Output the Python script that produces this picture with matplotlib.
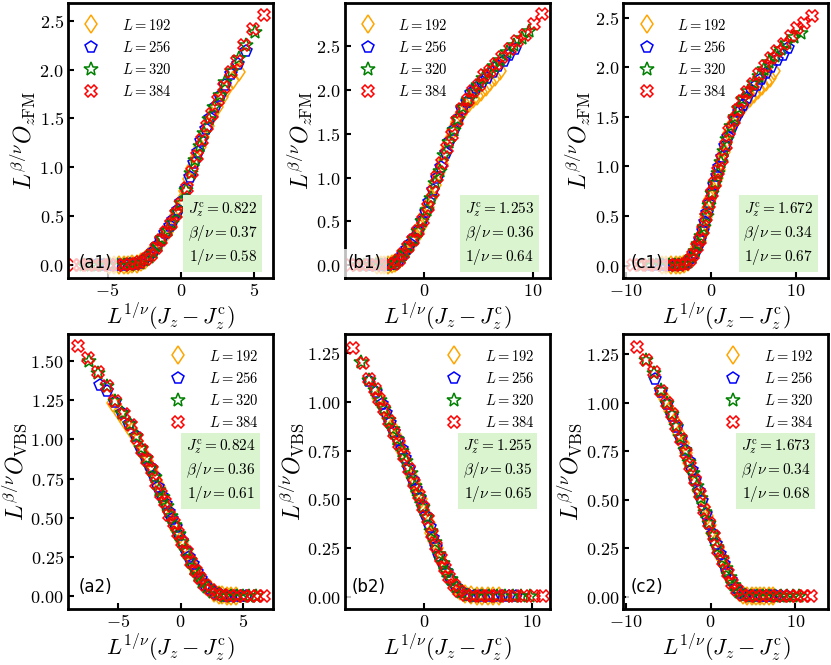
import matplotlib
matplotlib.use("Agg")
import matplotlib.pyplot as plt
from matplotlib.ticker import FuncFormatter, FixedLocator

plt.rcParams['mathtext.fontset'] = 'cm'
plt.rcParams['font.family'] = 'DejaVu Sans'

# ---- sizes and labels ----
sizes = [192, 256, 320, 384]
markers = ['d', 'p', '*', 'X']
colors = ['orange', 'blue', 'green', 'red']

# ---- (a1) O_zFM, Jc = 0.822 ----
a1_x192 = [-4.9, -4.55, -4.2, -3.9, -3.6, -3.3, -3.0, -2.7, -2.45, -2.2, -1.95, -1.7, -1.45, -1.2, -0.95, -0.7, -0.45, -0.2, 0.05, 0.3, 0.55, 0.8, 1.05, 1.3, 1.55, 1.85, 2.15, 2.45, 2.8, 3.15, 3.55, 3.99]
a1_y192 = [0.005, 0.005, 0.005, 0.006, 0.007, 0.009, 0.015, 0.032, 0.055, 0.09, 0.13, 0.18, 0.235, 0.29, 0.345, 0.41, 0.48, 0.56, 0.645, 0.76, 0.88, 0.99, 1.1, 1.21, 1.31, 1.42, 1.53, 1.62, 1.72, 1.81, 1.89, 1.97]
a1_x256 = [-5.8, -5.4, -5.0, -4.6, -4.2, -3.8, -3.45, -3.1, -2.8, -2.5, -2.2, -1.9, -1.6, -1.35, -1.05, -0.75, -0.5, -0.2, 0.05, 0.35, 0.6, 0.9, 1.15, 1.4, 1.7, 2.0, 2.35, 2.7, 3.05, 3.45, 3.9, 4.45]
a1_y256 = [0.004, 0.004, 0.004, 0.004, 0.005, 0.006, 0.008, 0.012, 0.028, 0.052, 0.09, 0.14, 0.2, 0.26, 0.33, 0.4, 0.46, 0.56, 0.645, 0.78, 0.9, 1.04, 1.16, 1.27, 1.39, 1.5, 1.62, 1.73, 1.84, 1.95, 2.06, 2.19]
a1_x320 = [-6.6, -6.15, -5.7, -5.25, -4.8, -4.35, -3.9, -3.5, -3.15, -2.8, -2.5, -2.2, -1.9, -1.55, -1.25, -0.9, -0.6, -0.25, 0.05, 0.35, 0.7, 1.0, 1.3, 1.6, 1.95, 2.3, 2.65, 3.05, 3.5, 3.95, 4.45, 5.1]
a1_y320 = [0.004, 0.004, 0.004, 0.004, 0.004, 0.005, 0.006, 0.007, 0.01, 0.025, 0.05, 0.085, 0.135, 0.21, 0.28, 0.36, 0.43, 0.54, 0.64, 0.77, 0.94, 1.08, 1.22, 1.35, 1.49, 1.62, 1.74, 1.87, 1.99, 2.12, 2.25, 2.38]
a1_x384 = [-7.35, -6.85, -6.35, -5.85, -5.35, -4.85, -4.35, -3.85, -3.45, -3.1, -2.75, -2.4, -2.05, -1.7, -1.35, -1.0, -0.65, -0.3, 0.05, 0.4, 0.75, 1.1, 1.45, 1.8, 2.15, 2.55, 2.95, 3.4, 3.85, 4.35, 4.95, 5.67]
a1_y384 = [0.003, 0.003, 0.003, 0.003, 0.004, 0.004, 0.005, 0.006, 0.008, 0.014, 0.03, 0.06, 0.11, 0.18, 0.26, 0.335, 0.42, 0.52, 0.63, 0.79, 0.955, 1.12, 1.28, 1.42, 1.55, 1.69, 1.82, 1.97, 2.09, 2.25, 2.41, 2.56]

# ---- (b1) O_zFM, Jc = 1.253 ----
b1_x192 = [-4.4, -4.05, -3.7, -3.35, -3.0, -2.7, -2.4, -2.1, -1.8, -1.5, -1.2, -0.9, -0.6, -0.3, 0.0, 0.3, 0.6, 0.95, 1.3, 1.6, 1.95, 2.3, 2.65, 3.0, 3.35, 3.7, 4.1, 4.5, 4.85, 5.2, 5.65, 6.05, 6.5, 7.0]
b1_y192 = [0.005, 0.005, 0.006, 0.007, 0.01, 0.025, 0.06, 0.1, 0.15, 0.2, 0.26, 0.31, 0.38, 0.45, 0.56, 0.66, 0.77, 0.92, 1.06, 1.16, 1.3, 1.42, 1.54, 1.63, 1.72, 1.79, 1.85, 1.89, 1.93, 1.97, 2.03, 2.09, 2.15, 2.22]
b1_x256 = [-5.3, -4.85, -4.4, -3.95, -3.5, -3.05, -2.7, -2.35, -2.0, -1.65, -1.3, -0.95, -0.6, -0.25, 0.1, 0.45, 0.8, 1.15, 1.55, 1.95, 2.3, 2.7, 3.1, 3.5, 3.9, 4.35, 4.8, 5.3, 5.8, 6.3, 6.85, 7.35, 7.85, 8.4]
b1_y256 = [0.004, 0.004, 0.005, 0.005, 0.006, 0.009, 0.02, 0.06, 0.12, 0.18, 0.245, 0.31, 0.39, 0.5, 0.61, 0.72, 0.86, 1.0, 1.12, 1.28, 1.41, 1.54, 1.67, 1.78, 1.86, 1.96, 2.02, 2.09, 2.14, 2.2, 2.27, 2.33, 2.4, 2.46]
b1_x320 = [-6.15, -5.6, -5.05, -4.5, -4.0, -3.5, -3.0, -2.6, -2.2, -1.8, -1.4, -1.0, -0.6, -0.2, 0.2, 0.6, 1.0, 1.4, 1.85, 2.3, 2.7, 3.1, 3.55, 4.0, 4.45, 4.95, 5.45, 5.95, 6.45, 7.0, 7.65, 8.3, 9.0, 9.7]
b1_y320 = [0.003, 0.004, 0.004, 0.005, 0.005, 0.007, 0.012, 0.035, 0.09, 0.155, 0.225, 0.295, 0.39, 0.5, 0.63, 0.77, 0.94, 1.07, 1.26, 1.41, 1.54, 1.67, 1.8, 1.88, 1.97, 2.05, 2.14, 2.2, 2.27, 2.34, 2.43, 2.51, 2.59, 2.67]
b1_x384 = [-6.9, -6.3, -5.7, -5.1, -4.5, -3.9, -3.35, -2.85, -2.4, -1.95, -1.5, -1.05, -0.6, -0.15, 0.3, 0.75, 1.2, 1.65, 2.1, 2.55, 3.0, 3.5, 4.0, 4.5, 5.0, 5.55, 6.1, 6.65, 7.2, 7.9, 8.55, 9.3, 10.1, 10.86]
b1_y384 = [0.003, 0.003, 0.004, 0.004, 0.005, 0.006, 0.01, 0.02, 0.057, 0.133, 0.21, 0.285, 0.39, 0.52, 0.67, 0.84, 1.01, 1.17, 1.34, 1.49, 1.64, 1.78, 1.88, 1.99, 2.06, 2.17, 2.22, 2.3, 2.37, 2.46, 2.56, 2.63, 2.75, 2.86]

# ---- (c1) O_zFM, Jc = 1.672 ----
c1_x192 = [-5.8, -5.25, -4.7, -4.15, -3.6, -3.1, -2.7, -2.3, -1.95, -1.6, -1.3, -1.05, -0.8, -0.55, -0.3, -0.05, 0.2, 0.45, 0.7, 0.95, 1.25, 1.55, 1.85, 2.2, 2.55, 2.9, 3.3, 3.75, 4.2, 4.65, 5.1, 5.55, 6.05, 6.5, 7.0, 7.5]
c1_y192 = [0.003, 0.004, 0.004, 0.005, 0.006, 0.012, 0.035, 0.075, 0.125, 0.19, 0.25, 0.32, 0.4, 0.49, 0.58, 0.67, 0.745, 0.815, 0.88, 0.96, 1.06, 1.15, 1.24, 1.34, 1.42, 1.49, 1.55, 1.61, 1.65, 1.69, 1.73, 1.77, 1.81, 1.85, 1.89, 1.96]
c1_x256 = [-7.0, -6.3, -5.6, -4.95, -4.3, -3.7, -3.2, -2.75, -2.3, -1.9, -1.55, -1.25, -0.95, -0.65, -0.4, -0.15, 0.15, 0.4, 0.7, 1.0, 1.35, 1.7, 2.05, 2.45, 2.85, 3.3, 3.8, 4.3, 4.85, 5.4, 5.95, 6.55, 7.15, 7.8, 8.45, 9.1]
c1_y256 = [0.003, 0.003, 0.004, 0.004, 0.005, 0.007, 0.012, 0.03, 0.075, 0.13, 0.2, 0.26, 0.345, 0.44, 0.53, 0.62, 0.735, 0.81, 0.9, 0.99, 1.1, 1.21, 1.3, 1.4, 1.47, 1.55, 1.62, 1.69, 1.76, 1.82, 1.88, 1.94, 2.0, 2.07, 2.13, 2.2]
c1_x320 = [-8.1, -7.3, -6.5, -5.75, -4.95, -4.25, -3.7, -3.2, -2.65, -2.2, -1.8, -1.45, -1.1, -0.8, -0.5, -0.2, 0.15, 0.45, 0.8, 1.15, 1.55, 1.95, 2.4, 2.85, 3.3, 3.8, 4.4, 5.05, 5.65, 6.3, 6.9, 7.6, 8.3, 9.0, 9.75, 10.6]
c1_y320 = [0.003, 0.003, 0.003, 0.004, 0.004, 0.005, 0.007, 0.012, 0.04, 0.09, 0.15, 0.215, 0.3, 0.39, 0.5, 0.61, 0.73, 0.83, 0.93, 1.05, 1.16, 1.28, 1.41, 1.5, 1.59, 1.68, 1.76, 1.84, 1.91, 1.98, 2.05, 2.12, 2.19, 2.25, 2.31, 2.35]
c1_x384 = [-9.2, -8.3, -7.4, -6.5, -5.6, -4.8, -4.2, -3.6, -3.0, -2.5, -2.05, -1.65, -1.25, -0.9, -0.55, -0.2, 0.15, 0.5, 0.9, 1.3, 1.75, 2.2, 2.7, 3.2, 3.7, 4.3, 5.0, 5.7, 6.4, 7.1, 7.8, 8.6, 9.4, 10.2, 11.0, 11.9]
c1_y384 = [0.003, 0.003, 0.003, 0.003, 0.003, 0.003, 0.004, 0.006, 0.015, 0.058, 0.11, 0.186, 0.26, 0.36, 0.49, 0.62, 0.73, 0.83, 0.955, 1.08, 1.22, 1.36, 1.47, 1.57, 1.665, 1.75, 1.83, 1.93, 2.01, 2.095, 2.17, 2.24, 2.32, 2.395, 2.45, 2.52]

# ---- (a2) O_VBS, Jc = 0.824 ----
a2_x192 = [-5.36, -4.85, -4.35, -3.9, -3.45, -3.0, -2.65, -2.35, -2.05, -1.75, -1.5, -1.25, -1.0, -0.8, -0.55, -0.35, -0.1, 0.15, 0.4, 0.65, 0.9, 1.15, 1.4, 1.7, 2.0, 2.35, 2.7, 3.05, 3.35, 3.7, 4.05, 4.4]
a2_y192 = [1.23, 1.17, 1.11, 1.05, 0.99, 0.915, 0.86, 0.81, 0.765, 0.7, 0.64, 0.6, 0.55, 0.51, 0.47, 0.43, 0.385, 0.345, 0.297, 0.255, 0.213, 0.175, 0.138, 0.098, 0.066, 0.045, 0.025, 0.012, 0.006, 0.004, 0.003, 0.003]
a2_x256 = [-6.45, -5.87, -5.25, -4.7, -4.15, -3.6, -3.15, -2.8, -2.45, -2.1, -1.8, -1.5, -1.2, -0.95, -0.65, -0.4, -0.1, 0.15, 0.45, 0.7, 1.0, 1.3, 1.6, 1.95, 2.35, 2.75, 3.2, 3.6, 4.0, 4.4, 4.8, 5.2]
a2_y256 = [1.345, 1.31, 1.235, 1.17, 1.1, 1.02, 0.94, 0.88, 0.825, 0.765, 0.695, 0.64, 0.59, 0.54, 0.49, 0.445, 0.39, 0.35, 0.29, 0.25, 0.205, 0.155, 0.113, 0.075, 0.045, 0.025, 0.009, 0.005, 0.004, 0.003, 0.003, 0.003]
a2_x320 = [-7.3, -6.6, -5.9, -5.25, -4.65, -4.05, -3.55, -3.15, -2.75, -2.4, -2.05, -1.7, -1.4, -1.1, -0.8, -0.45, -0.15, 0.15, 0.45, 0.75, 1.1, 1.4, 1.75, 2.15, 2.6, 3.05, 3.55, 4.05, 4.5, 5.0, 5.5, 6.0]
a2_y320 = [1.5, 1.425, 1.34, 1.245, 1.17, 1.095, 1.02, 0.945, 0.88, 0.82, 0.76, 0.68, 0.63, 0.575, 0.515, 0.455, 0.4, 0.345, 0.288, 0.235, 0.175, 0.135, 0.09, 0.058, 0.03, 0.013, 0.005, 0.003, 0.002, 0.002, 0.002, 0.002]
a2_x384 = [-8.18, -7.39, -6.6, -5.9, -5.21, -4.5, -3.95, -3.5, -3.1, -2.7, -2.3, -1.95, -1.6, -1.25, -0.9, -0.55, -0.2, 0.15, 0.5, 0.85, 1.2, 1.55, 1.95, 2.4, 2.9, 3.4, 3.95, 4.5, 5.05, 5.6, 6.15, 6.7]
a2_y384 = [1.596, 1.515, 1.43, 1.34, 1.245, 1.16, 1.09, 1.01, 0.935, 0.87, 0.805, 0.725, 0.65, 0.6, 0.52, 0.465, 0.404, 0.345, 0.28, 0.222, 0.165, 0.115, 0.07, 0.04, 0.018, 0.006, 0.003, 0.002, 0.002, 0.002, 0.002, 0.002]

# ---- (b2) O_VBS, Jc = 1.255 ----
b2_x192 = [-4.2, -3.7, -3.3, -2.95, -2.6, -2.3, -2.0, -1.7, -1.4, -1.1, -0.85, -0.6, -0.3, -0.05, 0.2, 0.45, 0.7, 0.95, 1.2, 1.5, 1.8, 2.1, 2.45, 2.9, 3.35, 3.85, 4.35, 4.9, 5.4, 5.95, 6.45, 7.0]
b2_y192 = [1.02, 0.97, 0.92, 0.873, 0.828, 0.79, 0.75, 0.71, 0.665, 0.617, 0.58, 0.54, 0.5, 0.46, 0.42, 0.38, 0.327, 0.285, 0.248, 0.203, 0.165, 0.13, 0.092, 0.053, 0.029, 0.012, 0.006, 0.004, 0.003, 0.003, 0.003, 0.003]
b2_x256 = [-5.06, -4.4, -3.9, -3.5, -3.1, -2.75, -2.4, -2.05, -1.7, -1.35, -1.0, -0.7, -0.35, -0.05, 0.25, 0.55, 0.85, 1.15, 1.45, 1.8, 2.15, 2.55, 3.0, 3.5, 4.05, 4.65, 5.25, 5.9, 6.5, 7.2, 7.85, 8.5]
b2_y256 = [1.11, 1.05, 0.99, 0.945, 0.893, 0.847, 0.803, 0.757, 0.71, 0.658, 0.6, 0.555, 0.505, 0.46, 0.415, 0.36, 0.302, 0.255, 0.21, 0.165, 0.125, 0.085, 0.048, 0.024, 0.009, 0.005, 0.003, 0.003, 0.003, 0.003, 0.003, 0.003]
b2_x320 = [-5.85, -5.05, -4.5, -4.05, -3.65, -3.25, -2.85, -2.45, -2.0, -1.6, -1.2, -0.8, -0.4, -0.05, 0.3, 0.65, 1.0, 1.4, 1.75, 2.1, 2.5, 2.95, 3.45, 4.1, 4.7, 5.35, 6.05, 6.75, 7.5, 8.25, 9.0, 9.8]
b2_y320 = [1.205, 1.115, 1.06, 1.01, 0.962, 0.91, 0.86, 0.808, 0.75, 0.695, 0.635, 0.57, 0.51, 0.46, 0.41, 0.335, 0.278, 0.218, 0.17, 0.13, 0.09, 0.05, 0.025, 0.008, 0.004, 0.003, 0.003, 0.003, 0.003, 0.003, 0.003, 0.003]
b2_x384 = [-6.57, -5.65, -5.03, -4.55, -4.1, -3.64, -3.18, -2.72, -2.25, -1.79, -1.33, -0.9, -0.45, -0.05, 0.35, 0.75, 1.15, 1.55, 1.95, 2.35, 2.8, 3.3, 3.9, 4.6, 5.3, 6.0, 6.8, 7.6, 8.4, 9.3, 10.2, 11.0]
b2_y384 = [1.279, 1.202, 1.117, 1.065, 1.014, 0.963, 0.903, 0.843, 0.783, 0.723, 0.655, 0.586, 0.52, 0.46, 0.4, 0.32, 0.26, 0.2, 0.145, 0.1, 0.06, 0.031, 0.01, 0.005, 0.004, 0.003, 0.003, 0.003, 0.003, 0.003, 0.003, 0.003]

# ---- (c2) O_VBS, Jc = 1.673 ----
c2_x192 = [-5.4, -4.75, -4.2, -3.7, -3.3, -2.9, -2.5, -2.15, -1.8, -1.45, -1.15, -0.8, -0.45, -0.1, 0.2, 0.6, 0.9, 1.25, 1.6, 1.95, 2.4, 2.85, 3.4, 3.85, 4.35, 4.85, 5.35, 5.85, 6.35, 6.9, 7.4]
c2_y192 = [1.02, 0.955, 0.9, 0.84, 0.79, 0.738, 0.69, 0.645, 0.6, 0.55, 0.508, 0.46, 0.415, 0.37, 0.33, 0.28, 0.244, 0.205, 0.166, 0.128, 0.083, 0.05, 0.022, 0.01, 0.005, 0.003, 0.003, 0.003, 0.003, 0.003, 0.003]
c2_x256 = [-6.6, -5.8, -5.1, -4.5, -4.0, -3.5, -3.05, -2.6, -2.2, -1.8, -1.4, -1.0, -0.55, -0.15, 0.25, 0.7, 1.1, 1.55, 1.95, 2.4, 2.95, 3.5, 4.1, 4.7, 5.3, 5.9, 6.5, 7.1, 7.75, 8.35, 9.0]
c2_y256 = [1.12, 1.055, 0.99, 0.93, 0.875, 0.81, 0.755, 0.7, 0.65, 0.6, 0.545, 0.49, 0.425, 0.375, 0.325, 0.27, 0.22, 0.17, 0.128, 0.085, 0.043, 0.018, 0.006, 0.004, 0.003, 0.003, 0.003, 0.003, 0.003, 0.003, 0.003]
c2_x320 = [-7.6, -6.7, -5.9, -5.2, -4.6, -4.05, -3.55, -3.05, -2.55, -2.1, -1.6, -1.15, -0.65, -0.2, 0.3, 0.8, 1.3, 1.8, 2.25, 2.75, 3.4, 4.05, 4.75, 5.45, 6.15, 6.85, 7.55, 8.3, 9.0, 9.7, 10.5]
c2_y320 = [1.22, 1.15, 1.065, 1.0, 0.94, 0.88, 0.82, 0.755, 0.693, 0.637, 0.572, 0.51, 0.437, 0.38, 0.318, 0.256, 0.2, 0.145, 0.1, 0.058, 0.022, 0.007, 0.004, 0.003, 0.003, 0.003, 0.003, 0.003, 0.003, 0.003, 0.003]
c2_x384 = [-8.68, -7.58, -6.7, -5.86, -5.2, -4.58, -4.03, -3.48, -2.93, -2.38, -1.83, -1.28, -0.73, -0.18, 0.37, 0.92, 1.47, 2.01, 2.56, 3.11, 3.85, 4.58, 5.4, 6.2, 7.0, 7.8, 8.6, 9.4, 10.2, 11.0, 11.9]
c2_y384 = [1.284, 1.22, 1.155, 1.06, 1.0, 0.94, 0.88, 0.81, 0.74, 0.672, 0.603, 0.526, 0.448, 0.379, 0.31, 0.241, 0.181, 0.121, 0.069, 0.034, 0.009, 0.004, 0.003, 0.003, 0.003, 0.003, 0.003, 0.003, 0.003, 0.003, 0.003]

# fit results shown in the green boxes
fit_jc = ['0.822', '1.253', '1.672', '0.824', '1.255', '1.673']
fit_beta = ['0.37', '0.36', '0.34', '0.36', '0.35', '0.34']
fit_nu = ['0.58', '0.64', '0.67', '0.61', '0.65', '0.68']
panel_tags = ['(a1)', '(b1)', '(c1)', '(a2)', '(b2)', '(c2)']

xticks_cols = [[-5, 0, 5], [0, 10], [-10, 0, 10]]
yticks_top = [0.0, 0.5, 1.0, 1.5, 2.0, 2.5]
yticks_bot = [[0.0, 0.25, 0.5, 0.75, 1.0, 1.25, 1.5], [0.0, 0.25, 0.5, 0.75, 1.0, 1.25], [0.0, 0.25, 0.5, 0.75, 1.0, 1.25]]

data = [
    [(a1_x192, a1_y192), (a1_x256, a1_y256), (a1_x320, a1_y320), (a1_x384, a1_y384)],
    [(b1_x192, b1_y192), (b1_x256, b1_y256), (b1_x320, b1_y320), (b1_x384, b1_y384)],
    [(c1_x192, c1_y192), (c1_x256, c1_y256), (c1_x320, c1_y320), (c1_x384, c1_y384)],
    [(a2_x192, a2_y192), (a2_x256, a2_y256), (a2_x320, a2_y320), (a2_x384, a2_y384)],
    [(b2_x192, b2_y192), (b2_x256, b2_y256), (b2_x320, b2_y320), (b2_x384, b2_y384)],
    [(c2_x192, c2_y192), (c2_x256, c2_y256), (c2_x320, c2_y320), (c2_x384, c2_y384)],
]

xlims = [(-7.7, 6.3), (-7.4, 11.57), (-10.3, 13.84), (-9.0, 7.4), (-7.34, 11.64), (-10.3, 13.9)]
ylims = [(-0.13, 2.68), (-0.145, 2.99), (-0.126, 2.65), (-0.08, 1.67), (-0.064, 1.35), (-0.064, 1.353)]

lefts = [68 / 831, 344.5 / 831, 623.3 / 831]
bottoms = [(665 - 278) / 665, (665 - 609) / 665]
w, h = 205 / 831, 275 / 665
tag_x = [0.05, 0.015, 0.035, 0.053, 0.035, 0.038]
msizes = {'d': 9.5, 'p': 8.5, '*': 10.5, 'X': 9}

fig = plt.figure(figsize=(8.31, 6.65), dpi=100)

for k in range(6):
    row, col = divmod(k, 3)
    ax = fig.add_axes([lefts[col], bottoms[row], w, h])
    for (xs, ys), m, c, L in zip(data[k], markers, colors, sizes):
        ax.plot(xs, ys, ls='none', marker=m, ms=msizes[m], mfc='none', mec=c,
                mew=1.1, label=r'$L=%d$' % L)
    ax.set_xlim(*xlims[k])
    ax.set_ylim(*ylims[k])

    ax.xaxis.set_major_locator(FixedLocator(xticks_cols[col]))
    if row == 0:
        ax.yaxis.set_major_locator(FixedLocator(yticks_top))
        yfmt = lambda v, p: r'$%.1f$' % v
        ylab = r'$L^{\beta/\nu}O_{z\mathrm{FM}}$'
        leg_loc = 'upper left'
    else:
        ax.yaxis.set_major_locator(FixedLocator(yticks_bot[col]))
        yfmt = lambda v, p: r'$%.2f$' % v
        ylab = r'$L^{\beta/\nu}O_{\mathrm{VBS}}$'
        leg_loc = 'upper right'
    ax.xaxis.set_major_formatter(FuncFormatter(lambda v, p: r'$%d$' % round(v)))
    ax.yaxis.set_major_formatter(FuncFormatter(yfmt))
    ax.tick_params(direction='in', length=4, width=1.5, labelsize=13, pad=3)
    for s in ax.spines.values():
        s.set_linewidth(2.0)

    ax.set_xlabel(r'$L^{1/\nu}(J_z-J_z^{\mathrm{c}})$', fontsize=16, labelpad=1)
    ax.set_ylabel(ylab, fontsize=17, labelpad=1)

    ax.legend(loc=leg_loc, frameon=False, fontsize=10.5, handlelength=1.2,
              handletextpad=1.5, labelspacing=0.5, borderaxespad=0.6)

    box_txt = ('$J_z^{\\mathrm{c}}=%s$\n$\\beta/\\nu=%s$\n$1/\\nu=%s$'
               % (fit_jc[k], fit_beta[k], fit_nu[k]))
    if row == 0:
        ax.text(0.925, 0.04, box_txt, transform=ax.transAxes, ha='right', va='bottom',
                fontsize=11, linespacing=1.3, zorder=5,
                bbox=dict(boxstyle='square,pad=0.3', fc='#d9f4cf', ec='none'))
        ty = 0.055
    else:
        ax.text(0.915, 0.625, box_txt, transform=ax.transAxes, ha='right', va='top',
                fontsize=11, linespacing=1.3, zorder=5,
                bbox=dict(boxstyle='square,pad=0.3', fc='#d9f4cf', ec='none'))
        ty = 0.08
    ax.text(tag_x[k], ty, panel_tags[k], transform=ax.transAxes, ha='left', va='center',
            fontsize=12, zorder=5,
            bbox=dict(boxstyle='square,pad=0.3', fc='white', ec='none', alpha=0.75))

fig.savefig('out.png', dpi=100)
